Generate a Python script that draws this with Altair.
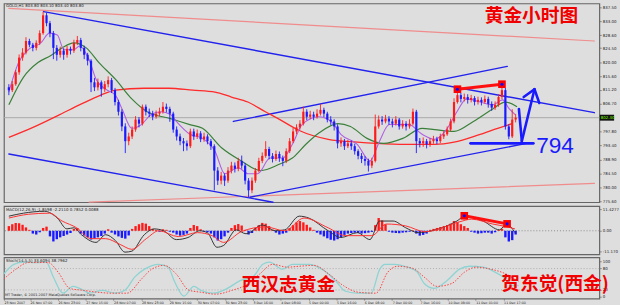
import json
import altair as alt
import pandas as pd

# ---------------- data ----------------
bar_index = list(range(0, 298, 2))          # hourly bar numbers, every 2nd bar
first_open = 812.0
close = [
    811.1, 813.0, 816.8, 821.5, 823.1, 826.8, 825.6, 824.6, 826.2, 829.3,
    835.0, 832.5, 829.3, 824.6, 822.4, 823.7, 822.4, 824.3, 823.7, 826.2,
    827.1, 824.6, 822.4, 820.5, 813.6, 812.0, 813.6, 811.4, 813.0, 814.3,
    811.1, 807.3, 804.2, 799.5, 794.8, 796.3, 798.5, 801.7, 800.4, 805.8,
    804.2, 803.6, 802.6, 803.6, 804.2, 805.8, 805.1, 803.6, 798.5, 796.3,
    794.8, 794.1, 793.2, 797.9, 796.3, 797.3, 795.4, 796.3, 794.8, 793.2,
    785.4, 782.2, 783.8, 782.2, 785.4, 787.0, 786.0, 788.5, 787.0, 782.2,
    779.1, 782.2, 785.4, 788.5, 790.1, 792.3, 790.1, 789.1, 790.7, 789.4,
    788.5, 791.6, 794.8, 797.9, 799.2, 800.4, 804.2, 802.6, 803.3, 802.6,
    803.6, 804.8, 803.6, 801.7, 801.1, 799.5, 794.1, 794.8, 793.2, 794.1,
    793.2, 791.6, 790.1, 789.1, 788.5, 787.0, 788.5, 799.5, 801.7, 801.1,
    802.0, 801.1, 800.4, 801.7, 799.5, 800.4, 799.5, 800.4, 804.2, 794.8,
    794.1, 794.8, 793.8, 794.8, 795.4, 794.8, 796.3, 797.0, 798.5, 801.1,
    807.3, 809.5, 808.3, 808.9, 808.0, 808.6, 807.3, 808.0, 807.3, 808.3,
    806.7, 805.5, 806.4, 808.9, 811.1, 799.5, 796.3, 801.7, 802.3,
]
high = [
    813.0, 814.0, 817.5, 822.5, 824.5, 828.0, 827.5, 826.2, 827.0, 830.2,
    836.2, 835.8, 833.2, 830.0, 825.5, 825.0, 824.5, 825.2, 825.0, 827.2,
    828.4, 827.8, 825.3, 823.0, 821.0, 815.0, 814.8, 814.2, 814.0, 815.5,
    815.0, 811.8, 808.0, 805.0, 800.5, 797.5, 799.5, 802.8, 802.5, 806.5,
    806.5, 805.2, 804.5, 804.6, 805.5, 807.3, 806.8, 805.8, 804.2, 799.5,
    797.2, 795.8, 795.0, 798.8, 798.8, 798.5, 798.0, 797.5, 797.0, 795.5,
    793.8, 786.5, 785.0, 784.5, 786.5, 788.2, 788.0, 789.5, 790.2, 787.8,
    783.0, 783.2, 786.2, 789.5, 791.2, 794.8, 793.0, 791.0, 791.8, 791.5,
    790.2, 792.5, 795.8, 799.0, 800.2, 801.5, 805.8, 805.0, 804.5, 804.2,
    805.0, 806.7, 805.5, 804.2, 802.8, 801.8, 800.2, 796.0, 795.5, 795.2,
    795.0, 794.0, 792.2, 791.0, 790.0, 789.2, 789.5, 803.3, 803.0, 802.8,
    803.2, 802.8, 802.0, 802.8, 802.2, 801.5, 801.2, 801.8, 805.2, 804.8,
    795.8, 796.0, 795.5, 795.8, 796.5, 796.2, 797.2, 798.0, 799.5, 802.0,
    808.5, 811.4, 810.2, 810.0, 809.8, 809.6, 809.2, 809.0, 808.8, 809.4,
    809.0, 807.5, 807.5, 809.8, 813.0, 811.8, 800.2, 805.0, 803.5,
]
low = [
    809.5, 810.5, 812.5, 816.0, 820.5, 822.5, 824.8, 823.5, 823.8, 825.5,
    828.8, 831.5, 828.0, 821.0, 820.5, 821.5, 820.8, 821.5, 822.5, 823.0,
    825.5, 823.5, 821.0, 819.0, 810.5, 810.8, 811.0, 809.0, 810.5, 812.0,
    810.2, 806.2, 803.0, 798.0, 791.0, 793.5, 795.5, 797.8, 799.2, 799.8,
    803.0, 802.5, 801.5, 802.0, 802.8, 803.6, 804.0, 801.0, 797.5, 795.0,
    793.5, 791.6, 791.8, 792.6, 795.2, 795.5, 794.5, 794.6, 793.8, 792.0,
    779.1, 780.8, 781.0, 780.5, 781.5, 784.5, 784.8, 785.2, 786.0, 781.0,
    776.9, 778.2, 781.5, 784.8, 787.8, 789.5, 789.0, 788.0, 788.5, 788.2,
    786.8, 787.8, 791.0, 794.2, 797.0, 798.5, 799.8, 801.5, 801.8, 801.5,
    802.0, 803.0, 802.5, 800.8, 800.0, 798.2, 792.5, 793.0, 792.0, 792.6,
    792.0, 790.5, 789.0, 787.8, 787.0, 785.1, 786.2, 788.0, 798.8, 800.0,
    800.5, 800.0, 799.2, 799.8, 798.5, 798.8, 798.2, 798.8, 799.8, 791.0,
    792.8, 793.0, 792.5, 793.0, 794.0, 793.8, 794.2, 795.5, 796.5, 798.0,
    800.5, 806.8, 807.2, 807.5, 806.8, 807.2, 806.2, 806.5, 806.2, 806.8,
    805.5, 804.5, 804.8, 805.8, 808.2, 798.5, 795.4, 795.8, 800.8,
]
macd_hist = [
    2.5, 3.5, 4.2, 4.0, 3.2, 1.8, 0.5, -1.5, -2.0, -0.8,
    1.5, 2.2, -3.0, -5.7, -4.5, -3.5, -2.8, -2.0, -1.2, 1.0,
    1.5, -1.5, -2.5, -3.5, -4.7, -4.2, -3.5, -2.8, -1.5, 0.8,
    -1.0, -2.0, -3.0, -3.8, -4.2, -2.5, 1.0, 2.5, 3.5, 4.2,
    3.8, 2.5, 1.0, 0.5, -0.5, 0.8, 0.5, -0.5, -1.0, -2.0,
    -2.6, -2.2, -1.5, 1.5, 3.1, 2.5, 0.8, -0.5, -0.8, -1.5,
    -3.5, -5.2, -4.5, -3.0, -1.0, 1.5, 3.0, 3.6, 2.8, 0.5,
    -2.0, -1.2, 1.5, 3.0, 4.2, 3.8, 2.5, 0.5, -1.0, -2.0,
    -1.5, -1.0, 1.5, 3.0, 4.5, 5.2, 4.5, 3.2, 1.8, 0.5,
    -1.0, -2.0, -3.0, -4.0, -4.8, -5.2, -4.5, -3.5, -2.2, -1.5,
    -1.2, -1.0, -1.2, -1.5, -1.3, -1.0, -0.6, 3.0, 6.8, 5.5,
    3.5, -0.5, -1.0, -1.2, -1.3, -1.0, -0.8, -0.5, 0.3, -1.5,
    -2.6, -2.2, -1.5, 0.5, 1.0, 1.5, 2.0, 2.5, 3.0, 3.8,
    5.2, 4.6, 3.5, 2.5, 1.5, -0.5, -1.0, -1.5, -1.3, -1.0,
    -1.0, -1.5, -0.8, 0.5, 1.0, -3.5, -5.7, -5.0, -2.0,
]
macd_main = [(0, 7.8), (8.5, 9.4), (20.9, 10.4), (28.3, 6.8), (33.9, 1.0), (37.9, 1.6),
             (42.4, -2.1), (50.9, -6.2), (56.5, -2.1), (62.2, -5.2), (67.8, -11.4), (71.8, -10.9),
             (79.1, -2.1), (84.8, 1.0), (90.4, 0.0), (97.8, -4.7), (104.6, -3.6), (111.4, 0.0),
             (115.9, -1.0), (121.5, -8.8), (125.5, -7.8), (132.8, 0.5), (138.5, -1.6), (148.1, 3.1),
             (155.5, 0.0), (161.1, 0.5), (169.6, 7.8), (175.2, 6.8), (186.5, 0.0), (193.9, -3.6),
             (203.5, -1.0), (210.9, -4.7), (216.5, 5.2), (224.4, 5.2), (231.8, 1.6), (239.1, -1.0),
             (247.0, 0.0), (261.7, 5.2), (266.3, 7.8), (277.0, 5.2), (286.6, 0.5), (290.6, 3.6),
             (295.6, -1.0)]
macd_signal = [(0, 6.8), (11.3, 8.8), (23.7, 9.4), (31.1, 5.2), (39.6, 1.6), (48.0, -4.2),
               (56.5, -4.2), (65.0, -7.3), (71.8, -9.9), (80.3, -4.2), (87.6, 0.0), (98.9, -3.1),
               (110.2, -1.0), (118.7, -2.6), (125.5, -6.2), (135.7, -0.5), (149.8, 2.1), (161.1, 0.0),
               (172.4, 6.8), (186.5, 1.6), (196.7, -2.6), (212.0, -2.6), (220.5, 3.6), (231.8, 2.6),
               (243.1, -0.5), (262.9, 4.7), (270.2, 6.2), (282.6, 3.6), (291.1, 2.1), (295.6, 1.0)]
stoch_main = [(0, 64.9), (5.7, 91.9), (11.3, 98), (18.7, 97), (24.3, 98), (28.3, 56.8), (33.9, 10.8),
              (39.6, 29.7), (43.5, 24.3), (49.2, 10.8), (56.5, 18.9), (63.9, 10.8), (69.5, 18.9),
              (75.2, 56.8), (80.8, 78.4), (88.8, 91.9), (94.4, 83.8), (97.8, 45.9), (103.4, 2.7),
              (109.1, 29.7), (113.1, 18.9), (120.4, 10.8), (128.3, 24.3), (135.7, 45.9), (143.0, 56.8),
              (148.7, 91.9), (152.6, 98), (160.0, 78.4), (165.6, 91.9), (171.3, 91.9), (175.2, 91.9),
              (182.6, 78.4), (190.5, 45.9), (196.2, 16.2), (203.5, 10.8), (210.9, 10.8), (215.9, 78.4),
              (218.8, 91.9), (224.4, 91.9), (231.8, 83.8), (237.4, 70.3), (241.4, 37.8), (247.0, 24.3),
              (254.4, 45.9), (261.7, 78.4), (267.4, 86.5), (275.3, 83.8), (281.0, 73), (286.6, 56.8),
              (292.3, 32.4), (295.6, 32.4)]
stoch_signal = [(0, 51), (6.8, 78), (14.1, 97), (25.4, 97), (31.1, 70), (37.9, 24), (45.2, 19),
                (53.7, 13.5), (62.2, 10.8), (70.7, 10.8), (79.1, 51), (84.8, 78), (92.1, 89), (98.9, 65),
                (106.3, 19), (113.1, 13.5), (121.5, 8), (131.1, 19), (139.6, 35), (147.0, 65), (154.3, 92),
                (162.8, 84), (169.6, 86.5), (178.1, 89), (186.5, 65), (195.0, 32), (203.5, 13.5),
                (213.7, 10.8), (220.5, 70), (226.1, 86.5), (234.6, 81), (241.9, 54), (248.7, 30),
                (257.2, 38), (264.6, 70), (271.3, 84), (279.8, 78), (288.3, 65), (295.6, 43)]
ma_red = [(0, 796.0), (14.1, 799.2), (28.3, 802.9), (42.4, 806.7), (53.7, 809.5), (62.2, 811.1),
          (79.1, 811.7), (93.3, 811.7), (107.4, 811.1), (120.4, 810.5), (130.0, 808.9), (139.6, 807.3),
          (149.8, 804.2), (158.3, 801.7), (169.6, 798.2), (186.5, 795.4), (203.5, 794.5), (214.8, 794.1),
          (231.8, 793.8), (248.7, 793.8), (260.0, 794.5), (275.3, 797.0), (285.5, 798.9), (294.0, 800.4)]
ma_green = [(0, 806.4), (8.5, 815.2), (17.0, 819.9), (24.3, 822.1), (31.1, 824.6), (37.9, 826.2),
            (45.2, 824.6), (52.6, 819.9), (62.2, 814.6), (71.8, 808.3), (80.8, 804.2), (94.4, 802.0),
            (105.7, 800.1), (113.1, 798.9), (124.4, 792.6), (135.7, 788.5), (147.0, 785.4), (158.3, 787.5),
            (165.6, 789.4), (173.5, 793.8), (180.9, 797.3), (192.2, 800.4), (199.5, 799.5), (209.2, 795.7),
            (218.8, 794.1), (230.1, 795.7), (241.4, 798.9), (248.7, 798.5), (260.0, 797.9), (271.3, 801.1),
            (282.6, 805.1), (290.0, 807.3), (296.8, 805.8)]
ma_purple = [(0, 810.5), (5.7, 819.9), (11.3, 824.0), (18.7, 826.2), (23.7, 829.3), (28.3, 828.7),
             (32.2, 824.0), (37.9, 824.0), (41.3, 825.2), (46.9, 820.8), (50.9, 814.6), (56.5, 811.4),
             (62.2, 809.5), (66.1, 805.1), (71.8, 798.9), (77.4, 800.1), (83.1, 803.3), (88.8, 804.2),
             (94.4, 803.3), (97.8, 801.1), (105.7, 797.0), (113.1, 795.7), (120.4, 791.6), (126.1, 784.4),
             (134.0, 786.3), (139.6, 784.4), (145.3, 784.4), (152.6, 789.4), (160.0, 789.4), (165.6, 793.8),
             (171.3, 800.1), (180.9, 802.6), (188.2, 801.1), (193.9, 797.0), (203.5, 793.8), (210.9, 788.5),
             (216.5, 794.8), (222.2, 800.1), (233.5, 800.1), (241.4, 797.0), (248.7, 795.4), (256.1, 798.9),
             (261.7, 804.2), (267.4, 808.3), (275.3, 807.3), (282.6, 806.4), (288.3, 808.0), (292.3, 805.1),
             (295.7, 803.3)]
# drawn lines: (bar1, price1, bar2, price2)
trend_blue = [(20.3, 836.2, 342, 803.9), (0, 790.7, 154.3, 775.3),
              (140.8, 776.9, 302.4, 794.1), (131.1, 801.1, 291.1, 818.7)]
trend_red_light = [(0, 837.2, 342, 826.8), (46.9, 775.3, 342, 781.3)]
hand_blue = [(269.6, 794.1, 306.4, 794.1), (297.9, 805.1, 299.6, 794.8), (299.6, 794.8, 307.0, 811.4),
             (300.7, 808.9, 307.0, 811.4), (307.0, 811.4, 309.8, 807.0)]
price_peaks = [(262, 811.4), (288, 813.0)]
macd_peaks = [(266, 8.0), (291, 3.7)]
last_price = 802.3

main_ticks = [837.5, 833.0, 828.6, 824.5, 820.0, 815.6, 811.2, 806.7, 797.8, 793.4, 788.9, 784.5, 780.0, 775.6]
macd_ticks = [11.4277, 0, -11.17]
macd_tick_labels = ["11.4277", "0.00", "-11.170"]
stoch_ticks = [100, 80, 20, 0]
x_ticks = [0, 15, 31, 47, 63, 79, 95, 111, 127, 143, 159, 175, 191, 207, 223, 239, 255, 271, 287]
x_labels = ["23 Nov 2007", "26 Nov 07:00", "26 Nov 23:00", "27 Nov 15:00", "28 Nov 07:00",
            "28 Nov 23:00", "29 Nov 15:00", "30 Nov 07:00", "30 Nov 23:00", "3 Dec 16:00",
            "4 Dec 08:00", "5 Dec 00:00", "5 Dec 16:00", "6 Dec 08:00", "7 Dec 00:00",
            "7 Dec 16:00", "10 Dec 09:00", "11 Dec 01:00", "11 Dec 17:00"]

# ---------------- chart ----------------
W = 605
RED, BLUE = "#ff1a1a", "#1a1aff"
xs = alt.Scale(domain=[0, 342], nice=False, zero=False)
ys_main = alt.Scale(domain=[775.3, 838.8], nice=False, zero=False)
ys_macd = alt.Scale(domain=[-12.6, 13.15], nice=False, zero=False)
ys_sto = alt.Scale(domain=[-4.6, 111.6], nice=False, zero=False)

ycommon = dict(orient="right", labelFontSize=4, tickSize=2, tickColor="#555", tickWidth=0.6,
               labelColor="#222", labelPadding=1, domain=False, grid=False, labelFlush=False,
               labelOverlap=False, labelFont="DejaVu Sans", title=None)
ax_main = alt.Axis(values=main_ticks, labelExpr="format(datum.value, '.2f')", **ycommon)
ax_macd = alt.Axis(values=macd_ticks,
                   labelExpr=f"{json.dumps(macd_tick_labels)}[indexof({json.dumps(macd_ticks)}, datum.value)]",
                   **ycommon)
ax_sto = alt.Axis(values=stoch_ticks, format="d", **ycommon)
ax_x = alt.Axis(values=x_ticks,
                labelExpr=f"{json.dumps(x_labels)}[indexof({json.dumps(x_ticks)}, datum.value)]",
                labelAlign="left", labelBaseline="top", labelFontSize=3.3, tickSize=1.5,
                tickColor="#555", tickWidth=0.6, labelPadding=0.5, domain=False, grid=False,
                labelFlush=False, labelOverlap=False, labelColor="#222", labelFont="DejaVu Sans",
                title=None)


def X(f, xax):
    return alt.X(f, scale=xs, axis=xax, title=None)


def Y(f, ys, yax):
    return alt.Y(f, scale=ys, axis=yax, title=None)


def segs(data, color, width, ys, yax, xax, dash=None):
    d = pd.DataFrame(data, columns=["x1", "y1", "x2", "y2"])
    kw = dict(color=color, strokeWidth=width, strokeCap="round")
    if dash:
        kw["strokeDash"] = dash
    return alt.Chart(d).mark_rule(**kw).encode(
        x=X("x1:Q", xax), x2="x2:Q", y=Y("y1:Q", ys, yax), y2="y2:Q")


def line(pts, color, width, ys, yax, xax, dash=None):
    d = pd.DataFrame(pts, columns=["i", "v"])
    kw = dict(color=color, strokeWidth=width, interpolate="monotone")
    if dash:
        kw["strokeDash"] = dash
    return alt.Chart(d).mark_line(**kw).encode(x=X("i:Q", xax), y=Y("v:Q", ys, yax))


def hline(vals, color, width, ys, yax, xax, dash=None):
    d = pd.DataFrame({"v": vals})
    kw = dict(color=color, strokeWidth=width)
    if dash:
        kw["strokeDash"] = dash
    return alt.Chart(d).mark_rule(**kw).encode(y=Y("v:Q", ys, yax))


def markers(pts, ys, yax, xax):
    d = pd.DataFrame(pts, columns=["i", "v"])
    base = alt.Chart(d).encode(x=X("i:Q", xax), y=Y("v:Q", ys, yax))
    return [base.mark_square(size=60, color="#ff0000", opacity=1),
            base.mark_circle(size=10, color="#0010ff", opacity=1)]


def label(txt, x, y, **kw):
    return alt.Chart(pd.DataFrame({"t": [txt]})).mark_text(**kw).encode(
        x=alt.value(x), y=alt.value(y), text="t:N")


opens = [first_open] + close[:-1]
candles = pd.DataFrame({"i": bar_index, "o": opens, "c": close, "h": high, "l": low})
candles["dir"] = ["up" if c >= o else "down" for o, c in zip(candles.o, candles.c)]
cscale = alt.Scale(domain=["up", "down"], range=[RED, BLUE])

cbase = alt.Chart(candles).encode(x=X("i:Q", None),
                                  color=alt.Color("dir:N", scale=cscale, legend=None))
wicks = cbase.mark_rule(strokeWidth=0.9).encode(y=Y("l:Q", ys_main, ax_main), y2="h:Q")
bodies = cbase.mark_bar(width=2.2).encode(y=Y("o:Q", ys_main, ax_main), y2="c:Q")

lp = pd.DataFrame({"p": [last_price], "t": ["802.30"]})
price_box = alt.Chart(lp).mark_rule(color="#111", strokeWidth=6).encode(
    x=alt.value(605.5), x2=alt.value(620), y=Y("p:Q", ys_main, ax_main))
price_txt = alt.Chart(lp).mark_text(align="left", baseline="middle", fontSize=4, color="#7cfc00",
                                    font="DejaVu Sans").encode(
    x=alt.value(606.5), y=Y("p:Q", ys_main, ax_main), text="t:N")

main = alt.layer(
    hline([last_price], "#a9a9a9", 1, ys_main, ax_main, None),
    segs(trend_red_light, "#f08c8c", 1.2, ys_main, ax_main, None),
    segs(trend_blue, "#2222ee", 1.4, ys_main, ax_main, None),
    line(ma_red, "#ff2a2a", 1.3, ys_main, ax_main, None),
    line(ma_green, "#3a803a", 1.2, ys_main, ax_main, None),
    line(ma_purple, "#b060e0", 1.1, ys_main, ax_main, None),
    wicks, bodies,
    segs(hand_blue, "#1a1aff", 2.6, ys_main, ax_main, None),
    segs([(price_peaks[0][0], price_peaks[0][1], price_peaks[1][0], price_peaks[1][1])],
         "#ff1010", 3, ys_main, ax_main, None),
    *markers(price_peaks, ys_main, ax_main, None),
    price_box, price_txt,
    label("GOLD,H1  803.80 803.10 803.40 803.80", 2, 1, align="left", baseline="top",
          fontSize=4, color="#222", font="DejaVu Sans"),
    label("黄金小时图", 536, 13, align="center", baseline="middle", fontSize=19,
          font="Noto Sans CJK SC", fontWeight="bold", color="#f00000"),
    label("794", 560, 152, align="center", baseline="alphabetic", fontSize=23,
          font="Liberation Sans Narrow, Liberation Sans", color="#1a1aff"),
).properties(width=W, height=202)

hist = pd.DataFrame({"i": bar_index, "h": macd_hist})
hist["s"] = ["up" if v >= 0 else "down" for v in hist.h]
hist_bars = alt.Chart(hist).mark_bar(width=2.4).encode(
    x=X("i:Q", None), y=Y("h:Q", ys_macd, ax_macd),
    color=alt.Color("s:N", scale=cscale, legend=None))

macd = alt.layer(
    hline([0], "#777", 0.8, ys_macd, ax_macd, None, dash=[1, 2]),
    hist_bars,
    line(macd_main, "#333333", 1.0, ys_macd, ax_macd, None),
    line(macd_signal, "#ff3030", 1.0, ys_macd, ax_macd, None),
    segs([(macd_peaks[0][0], macd_peaks[0][1], macd_peaks[1][0], macd_peaks[1][1])],
         "#ff1010", 3, ys_macd, ax_macd, None),
    *markers(macd_peaks, ys_macd, ax_macd, None),
    label("MACD(12,26,9) -1.8598 -2.2110 0.7852 0.0088", 2, 2, align="left", baseline="top",
          fontSize=4, color="#222", font="DejaVu Sans"),
).properties(width=W, height=49)

stoch = alt.layer(
    hline([80, 20], "#999", 0.7, ys_sto, ax_sto, ax_x, dash=[1, 2]),
    line(stoch_main, "#8fd3d3", 1.3, ys_sto, ax_sto, ax_x),
    line(stoch_signal, "#ff4040", 1.0, ys_sto, ax_sto, ax_x, dash=[1.5, 1.5]),
    label("Stoch(14,5,5) 33.6094 38.7962", 2, 2, align="left", baseline="top",
          fontSize=4, color="#222", font="DejaVu Sans"),
    label("MT Trader, © 2001-2007 MetaQuotes Software Corp.", 1, 38, align="left",
          baseline="middle", fontSize=3.5, color="#222", font="DejaVu Sans"),
    label("西汉志黄金", 289, 28, align="center", baseline="middle", fontSize=19,
          font="Noto Sans CJK SC", fontWeight="bold", color="#f00000"),
    label("贺东觉(西金)", 560, 27, align="center", baseline="middle", fontSize=19,
          font="Noto Sans CJK SC", fontWeight="bold", color="#f00000"),
).properties(width=W, height=42)

chart = alt.vconcat(main, macd, stoch, spacing=1).configure(
    background="#dedede", padding=0, font="DejaVu Sans"
).configure_view(stroke="#666666", strokeWidth=1.2)

chart.save("out.html", embed_options={"renderer": "svg", "actions": False})
